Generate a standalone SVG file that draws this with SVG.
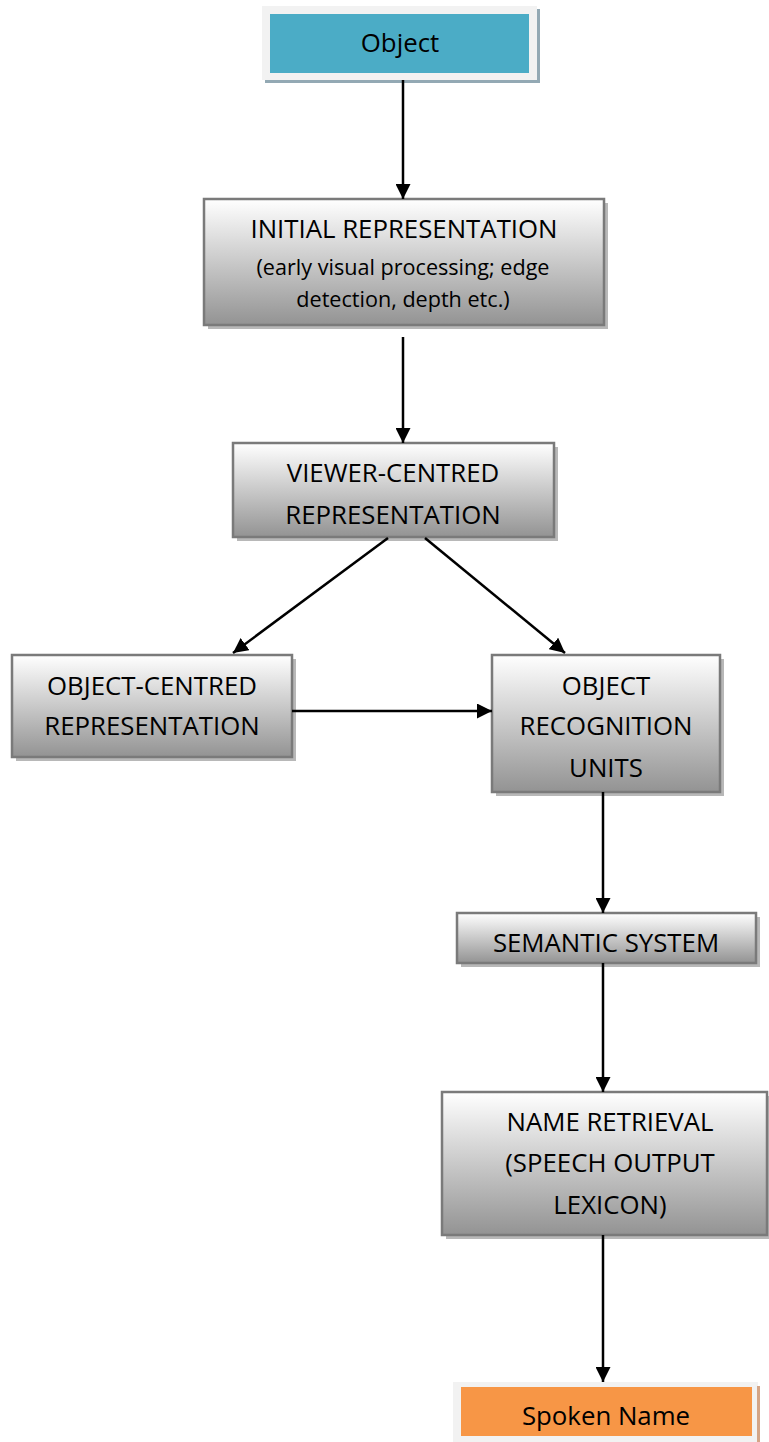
<svg xmlns="http://www.w3.org/2000/svg" width="769" height="1442" viewBox="0 0 769 1442">
<defs>
<linearGradient id="g" x1="0" y1="0" x2="0" y2="1">
<stop offset="0" stop-color="#ffffff"/>
<stop offset="1" stop-color="#939393"/>
</linearGradient>
<marker id="ah" viewBox="0 0 10 10" refX="10" refY="5" markerWidth="6" markerHeight="6" markerUnits="strokeWidth" orient="auto">
<path d="M0,0 L10,5 L0,10 z" fill="#000"/>
</marker>
<style>
.box{fill:url(#g);stroke:#7a7a7a;stroke-width:2.5}
.sh{fill:#b8b8b8}
.t{font-family:"Open Sans","Liberation Sans",sans-serif;font-size:25.8px;fill:#000;text-anchor:middle}
.s{font-size:21.6px}
.c{fill:none;stroke:#000;stroke-width:2.5;marker-end:url(#ah)}
</style>
</defs>
<rect width="769" height="1442" fill="#fff"/>
<g id="object">
<rect x="265" y="9" width="275" height="74" fill="#93a9b4"/>
<rect x="262" y="6" width="275" height="74" fill="#f2f2f2"/>
<rect x="270" y="14" width="259" height="59" fill="#4bacc6"/>
<text class="t" x="400" y="52">Object</text>
</g>
<g id="initial">
<rect class="sh" x="208" y="203" width="400" height="126"/>
<rect class="box" x="204" y="199" width="400" height="126"/>
<text class="t" x="404" y="238">INITIAL REPRESENTATION</text>
<text class="t s" x="403" y="275">(early visual processing; edge</text>
<text class="t s" x="403" y="307">detection, depth etc.)</text>
</g>
<g id="viewer">
<rect class="sh" x="237" y="447" width="321" height="94"/>
<rect class="box" x="233" y="443" width="321" height="94"/>
<text class="t" x="393" y="482">VIEWER-CENTRED</text>
<text class="t" x="393" y="524">REPRESENTATION</text>
</g>
<g id="objcentred">
<rect class="sh" x="16" y="659" width="280" height="102"/>
<rect class="box" x="12" y="655" width="280" height="102"/>
<text class="t" x="152" y="695">OBJECT-CENTRED</text>
<text class="t" x="152" y="735">REPRESENTATION</text>
</g>
<g id="oru">
<rect class="sh" x="496" y="659" width="228" height="137"/>
<rect class="box" x="492" y="655" width="228" height="137"/>
<text class="t" x="606" y="695">OBJECT</text>
<text class="t" x="606" y="735">RECOGNITION</text>
<text class="t" x="606" y="777">UNITS</text>
</g>
<g id="semantic">
<rect class="sh" x="461" y="917" width="299" height="50"/>
<rect class="box" x="457" y="913" width="299" height="50"/>
<text class="t" x="606" y="952">SEMANTIC SYSTEM</text>
</g>
<g id="name">
<rect class="sh" x="446" y="1096" width="325" height="143"/>
<rect class="box" x="442" y="1092" width="325" height="143"/>
<text class="t" x="610" y="1131">NAME RETRIEVAL</text>
<text class="t" x="610" y="1172">(SPEECH OUTPUT</text>
<text class="t" x="610" y="1214">LEXICON)</text>
</g>
<g id="spoken">
<rect x="453" y="1382" width="305" height="60" fill="#f2f2f2"/>
<rect x="757" y="1386" width="3" height="56" fill="#d4a587"/>
<rect x="461" y="1387" width="291" height="49" fill="#f79646"/>
<text class="t" x="606" y="1425">Spoken Name</text>
</g>
<g id="connectors">
<line class="c" x1="403" y1="80" x2="403" y2="199"/>
<line class="c" x1="403" y1="337" x2="403" y2="443"/>
<line class="c" x1="388" y1="538" x2="233" y2="653"/>
<line class="c" x1="425" y1="538" x2="565" y2="653"/>
<line class="c" x1="292" y1="711" x2="492" y2="711"/>
<line class="c" x1="603" y1="792" x2="603" y2="913"/>
<line class="c" x1="603" y1="963" x2="603" y2="1092"/>
<line class="c" x1="603" y1="1235" x2="603" y2="1382"/>
</g>
</svg>
